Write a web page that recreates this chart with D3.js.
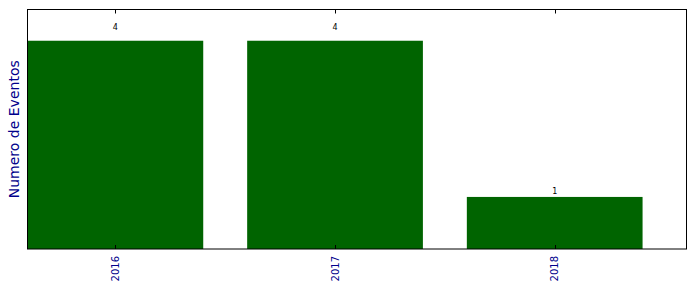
<!DOCTYPE html>
<html><head><meta charset="utf-8">
<script src="https://cdn.jsdelivr.net/npm/d3@7"></script>
<style>body{margin:0;background:#fff}svg{display:block}</style>
</head><body>
<svg id="c" width="696" height="292"></svg>
<script>
const categories = ["2016", "2017", "2018"];
const values = [4, 4, 1];
const yLabel = "Numero de Eventos";

const svg = d3.select("#c");
const L = 27.5, R = 686.5, T = 9.5, B = 249;
const x = d3.scaleLinear().domain([-0.4, categories.length - 0.4]).range([L, R]);
const y = d3.scaleLinear().domain([0, d3.max(values) * 1.15]).range([B, T]);
const bw = x(0.8) - x(0);

svg.append("rect").attr("x", 0).attr("y", 0).attr("width", 696).attr("height", 292).attr("fill", "#fff");

svg.selectAll("rect.bar").data(values).enter().append("rect")
  .attr("class", "bar")
  .attr("x", (d, i) => x(i - 0.4))
  .attr("y", d => y(d))
  .attr("width", bw)
  .attr("height", d => B - y(d))
  .attr("fill", "#006400");

svg.selectAll("text.val").data(values).enter().append("text")
  .attr("class", "val")
  .attr("x", (d, i) => x(i))
  .attr("y", d => y(d * 1.05))
  .attr("text-anchor", "middle")
  .attr("font-family", "DejaVu Sans")
  .attr("font-size", 8)
  .attr("fill", "#000")
  .text(d => d);

// frame
svg.append("rect").attr("x", L).attr("y", T).attr("width", R - L).attr("height", B - T)
  .attr("fill", "none").attr("stroke", "#000").attr("stroke-width", 1);

// ticks (inward top & bottom)
const idx = categories.map((c, i) => i);
svg.selectAll("line.tb").data(idx).enter().append("line")
  .attr("x1", i => Math.round(x(i)) + 0.5).attr("x2", i => Math.round(x(i)) + 0.5)
  .attr("y1", B).attr("y2", B - 4).attr("stroke", "#000");
svg.selectAll("line.tt").data(idx).enter().append("line")
  .attr("x1", i => Math.round(x(i)) + 0.5).attr("x2", i => Math.round(x(i)) + 0.5)
  .attr("y1", T).attr("y2", T + 4).attr("stroke", "#000");

// tick labels rotated
svg.selectAll("text.tl").data(categories).enter().append("text")
  .attr("class", "tl")
  .attr("transform", (d, i) => `translate(${x(i) + 3.5},${B + 7}) rotate(-90)`)
  .attr("text-anchor", "end")
  .attr("font-family", "DejaVu Sans")
  .attr("font-size", 10)
  .attr("fill", "#00008b")
  .text(d => d);

svg.append("text")
  .attr("transform", `translate(19,${(T + B) / 2}) rotate(-90)`)
  .attr("text-anchor", "middle")
  .attr("font-family", "DejaVu Sans")
  .attr("font-size", 14)
  .attr("fill", "#00008b")
  .text(yLabel);
</script>
</body></html>
